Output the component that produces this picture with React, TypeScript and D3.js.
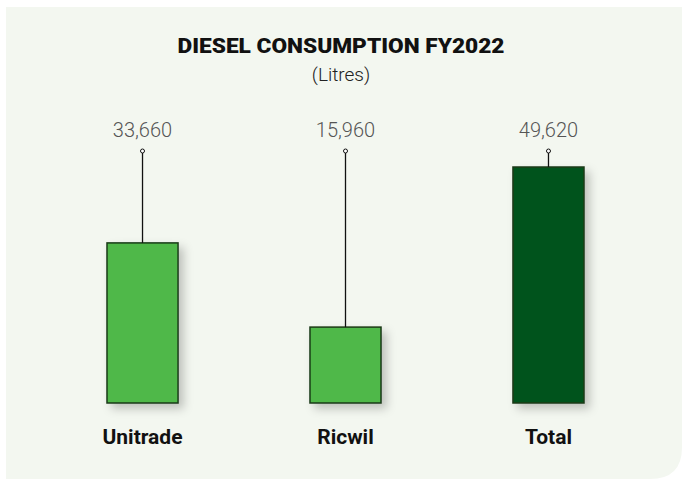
import React from "react";
import * as d3 from "d3";

const categories = ["Unitrade", "Ricwil", "Total"];
const values = [33660, 15960, 49620];
const valueLabels = ["33,660", "15,960", "49,620"];
const barColors = ["#50b848", "#50b848", "#06531e"];

const W = 682;
const H = 479;
const baseY = 403;
const topY = 167;
const labelY = 151;

const App = () => {
  const x = d3
    .scaleBand()
    .domain(categories)
    .range([5.5, 685.5])
    .paddingInner(0.65)
    .paddingOuter(0.5);

  const y = d3
    .scaleLinear()
    .domain([0, d3.max(values)])
    .range([baseY, topY]);

  const r = 32;
  const panel = `M6,7 H${W} V${H - r} Q${W},${H} ${W - r},${H} H6 Z`;

  return (
    <svg
      width={W}
      height={H}
      style={{ position: "absolute", left: 0, top: 0, display: "block" }}
    >
      <defs>
        <filter id="shadow" x="-30%" y="-30%" width="170%" height="170%">
          <feDropShadow dx="5" dy="5" stdDeviation="5" floodColor="#000" floodOpacity="0.22" />
        </filter>
      </defs>
      <rect width={W} height={H} fill="#ffffff" />
      <path d={panel} fill="#f3f7f0" />

      <text
        x={341}
        y={53}
        textAnchor="middle"
        fontFamily="Roboto, sans-serif"
        fontWeight={900}
        fontSize={21}
        textLength={327}
        lengthAdjust="spacingAndGlyphs"
        fill="#111"
      >
        DIESEL CONSUMPTION FY2022
      </text>
      <text
        x={341}
        y={81}
        textAnchor="middle"
        fontFamily="Roboto, sans-serif"
        fontWeight={300}
        fontSize={19}
        fill="#222"
      >
        (Litres)
      </text>

      {categories.map((c, i) => {
        const bx = x(c) as number;
        const cx = bx + x.bandwidth() / 2;
        return (
          <g key={c}>
            <rect
              x={bx}
              y={y(values[i])}
              width={x.bandwidth()}
              height={baseY - y(values[i])}
              fill={barColors[i]}
              stroke="#1b3a18"
              strokeWidth={1.5}
              filter="url(#shadow)"
            />
            <line x1={cx} x2={cx} y1={labelY + 2} y2={y(values[i])} stroke="#111" strokeWidth={1.3} />
            <circle cx={cx} cy={labelY} r={2} fill="#fff" stroke="#111" strokeWidth={1} />
            <text
              x={cx}
              y={137}
              textAnchor="middle"
              fontFamily="Roboto, sans-serif"
              fontWeight={300}
              fontSize={20}
              fill="#555"
            >
              {valueLabels[i]}
            </text>
            <text
              x={cx}
              y={444}
              textAnchor="middle"
              fontFamily="Roboto, sans-serif"
              fontWeight={700}
              fontSize={21}
              fill="#111"
            >
              {c}
            </text>
          </g>
        );
      })}
    </svg>
  );
};

export default App;
